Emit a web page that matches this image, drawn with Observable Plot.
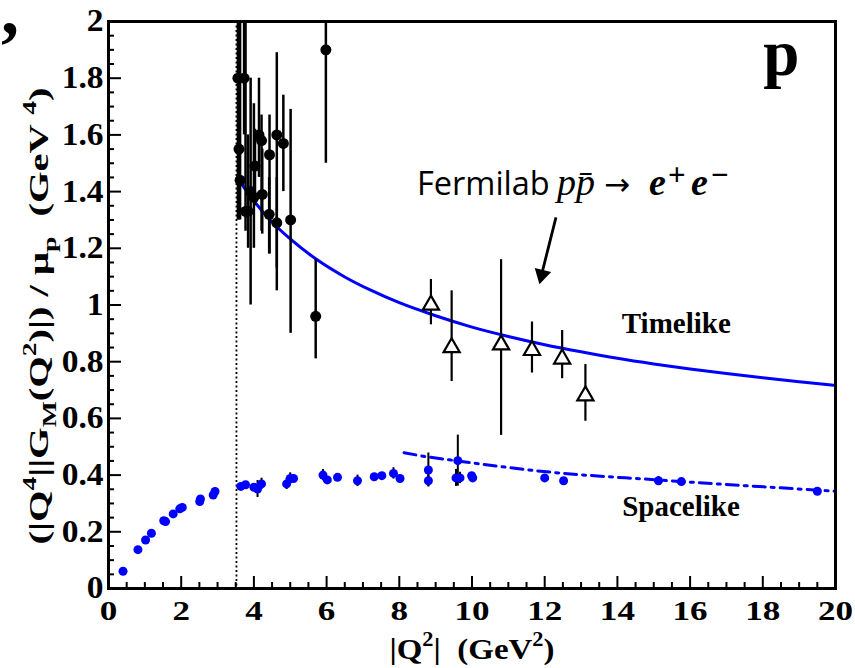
<!DOCTYPE html>
<html><head><meta charset="utf-8">
<script src="https://cdn.jsdelivr.net/npm/d3@7"></script>
<script src="https://cdn.jsdelivr.net/npm/@observablehq/plot@0.6"></script>
<style>body{margin:0;background:#fff;} #chart{width:855px;height:668px;}</style>
</head><body><div id="chart"></div>
<script>
// Timelike (filled black circles)
const tlQ2  = [3.56, 3.73, 3.59, 3.62, 3.77, 3.84, 3.91, 4.00, 4.03, 4.14, 4.21, 4.23, 4.42, 4.43, 4.63, 4.63, 4.81, 5.01, 5.70, 5.98];
const tlVal = [1.80, 1.80, 1.55, 1.44, 1.33, 1.33, 1.40, 1.38, 1.49, 1.60, 1.58, 1.39, 1.32, 1.53, 1.60, 1.29, 1.57, 1.30, 0.96, 1.90];
const tlLo  = [1.30, 1.60, 1.30, 1.30, 1.26, 1.20, 1.00, 1.20, 1.35, 1.45, 1.26, 1.25, 1.18, 1.18, 1.13, 1.05, 1.40, 0.90, 0.81, 1.50];
const tlHi  = [2.30, 2.30, 2.20, 2.20, 2.20, 1.60, 1.80, 1.71, 1.62, 1.80, 1.67, 1.55, 1.45, 1.67, 1.89, 1.45, 1.74, 1.69, 1.16, 2.30];
// Fermilab (open triangles)
const fmQ2  = [8.87, 9.44, 10.80, 11.65, 12.48, 13.12];
const fmVal = [1.00, 0.85, 0.86, 0.84, 0.81, 0.68];
const fmLo  = [0.93, 0.73, 0.54, 0.76, 0.74, 0.59];
const fmHi  = [1.09, 1.05, 1.16, 0.94, 0.91, 0.79];
// Spacelike (blue circles)
const slQ2  = [0.40,0.81,1.02,1.18,1.52,1.57,1.78,1.96,2.03,2.51,2.53,2.88,2.93,3.64,3.77,4.00,4.10,4.21,4.90,5.00,5.09,5.90,6.02,6.30,6.85,7.31,7.52,7.84,8.02,8.80,8.80,9.56,9.61,9.67,9.99,10.02,12.00,12.52,15.13,15.76,19.50];
const slVal = [0.061,0.137,0.171,0.195,0.239,0.236,0.263,0.281,0.286,0.307,0.316,0.330,0.342,0.360,0.366,0.357,0.351,0.369,0.369,0.388,0.388,0.400,0.383,0.392,0.380,0.394,0.398,0.406,0.388,0.418,0.380,0.390,0.451,0.390,0.398,0.390,0.390,0.380,0.380,0.377,0.343];
const slErr = [0,0,0,0,0,0,0,0,0,0,0,0,0,0,0,0,0.03,0.02,0.02,0.02,0.01,0.02,0.01,0,0.02,0,0,0.02,0,0.06,0.02,0.03,0.09,0.02,0.01,0,0,0,0.015,0,0];
// Timelike fit curve (solid blue)
const fitTQ2  = [3.6, 4.0, 4.5, 5.0, 5.7, 6.5, 7.2, 8.0, 9.0, 10.0, 11.0, 12.0, 13.0, 14.0, 15.0, 16.0, 17.0, 18.0, 19.0, 20.0];
const fitTVal = [1.438, 1.367, 1.293, 1.233, 1.163, 1.099, 1.053, 1.008, 0.962, 0.922, 0.889, 0.860, 0.835, 0.812, 0.792, 0.774, 0.758, 0.743, 0.729, 0.716];
// Spacelike extrapolation (dash-dot blue)
const fitSQ2  = [8.13, 8.6, 9.6, 12.18, 15.1, 20.0];
const fitSVal = [0.479, 0.468, 0.45, 0.41, 0.383, 0.343];
// Axis ticks
const xMajor = [0,2,4,6,8,10,12,14,16,18,20];
const xMinor = d3.range(0, 20.001, 0.5).filter(v => v % 2 !== 0);
const yMajor = [0,0.2,0.4,0.6,0.8,1,1.2,1.4,1.6,1.8,2];
const yMinor = d3.range(0, 2.0001, 0.05).map(v => +v.toFixed(2)).filter(v => Math.abs(v*5 - Math.round(v*5)) > 1e-6);
const threshold = [3.52];
// Annotation anchors (data units)
const arrowShaft = [{x1: 12.31, y1: 1.309, x2: 11.93, y2: 1.115}];
const arrowHead = [{x: 11.92, y: 1.1065}];

const timelike = tlQ2.map((q,i)=>({q, v: tlVal[i], lo: tlLo[i], hi: tlHi[i]}));
const fermi = fmQ2.map((q,i)=>({q, v: fmVal[i], lo: fmLo[i], hi: fmHi[i]}));
const space = slQ2.map((q,i)=>({q, v: slVal[i], lo: slVal[i]-slErr[i], hi: slVal[i]+slErr[i]}));
const fitT = fitTQ2.map((q,i)=>({q, v: fitTVal[i]}));
const fitS = fitSQ2.map((q,i)=>({q, v: fitSVal[i]}));

const serif = "Liberation Serif, serif";
const plot = Plot.plot({
  width: 855, height: 668,
  marginLeft: 108, marginRight: 20, marginTop: 21, marginBottom: 80,
  style: {fontSize: "27px", fontWeight: "bold", background: "white", color: "black", overflow: "visible"},
  x: {domain: [0, 20]},
  y: {domain: [0, 2]},
  marks: [
    Plot.ruleX(threshold, {strokeDasharray: "2,2.5", strokeWidth: 1.8}),
    Plot.line(fitT, {x: "q", y: "v", stroke: "#0000ff", strokeWidth: 3, curve: "monotone-x"}),
    Plot.line(fitS, {x: "q", y: "v", stroke: "#0000ff", strokeWidth: 3, curve: "monotone-x", strokeDasharray: "12,6,3,6"}),
    Plot.ruleX(space.filter(d => d.hi > d.lo), {x: "q", y1: "lo", y2: "hi", stroke: "black", strokeWidth: 2}),
    Plot.dot(space, {x: "q", y: "v", r: 4.5, fill: "#0000ff"}),
    Plot.ruleX(timelike, {x: "q", y1: "lo", y2: "hi", stroke: "black", strokeWidth: 2.5, clip: true}),
    Plot.dot(timelike, {x: "q", y: "v", r: 5.5, fill: "black"}),
    Plot.ruleX(fermi, {x: "q", y1: "lo", y2: "hi", stroke: "black", strokeWidth: 2.2}),
    Plot.dot(fermi, {x: "q", y: "v", r: 6, symbol: "triangle", fill: "white", stroke: "black", strokeWidth: 2.2}),
    Plot.link(arrowShaft, {x1: "x1", y1: "y1", x2: "x2", y2: "y2", stroke: "black", strokeWidth: 2.8}),
    Plot.dot(arrowHead, {x: "x", y: "y", r: 6.3, symbol: "triangle", fill: "black", rotate: 194}),
    Plot.text(["Timelike"], {x: 15.62, y: 0.90, text: d => d, fontSize: 29, fontWeight: "bold", lineAnchor: "bottom"}),
    Plot.text(["Spacelike"], {x: 15.75, y: 0.255, text: d => d, fontSize: 29, fontWeight: "bold", lineAnchor: "bottom"}),
    Plot.text(["p"], {x: 18.51, y: 1.81, text: d => d, fontSize: 65, fontWeight: "bold", lineAnchor: "bottom"}),
    Plot.axisX(xMajor, {tickSize: -12, fill: "none", strokeWidth: 2, label: null}),
    Plot.axisX(xMinor, {tickSize: -6, fill: "none", strokeWidth: 2, label: null}),
    Plot.axisX(xMajor, {tickSize: 0, tickPadding: 12, tickFormat: d => String(d), label: null, fontSize: 27}),
    Plot.axisY(yMajor, {tickSize: -13, fill: "none", strokeWidth: 2, label: null}),
    Plot.axisY(yMinor, {tickSize: -6, fill: "none", strokeWidth: 2, label: null}),
    Plot.axisY(yMajor, {tickSize: 0, tickPadding: 5, tickFormat: d => String(d), label: null, fontSize: 31}),
    Plot.frame({strokeWidth: 3})
  ]
});
document.getElementById("chart").appendChild(plot);

const svg = d3.select(plot);
svg.attr("font-family", serif);
svg.selectAll("text").attr("font-family", serif);
const X = plot.scale("x"), Y = plot.scale("y");

// horizontally widen tick labels (reference glyphs are wide)
function widen(sel, k) {
  sel.each(function() {
    const len = this.getComputedTextLength();
    if (len > 0) d3.select(this).attr("textLength", len * k).attr("lengthAdjust", "spacingAndGlyphs");
  });
}
widen(svg.selectAll('[aria-label="x-axis tick label"] text'), 1.3);
widen(svg.selectAll('[aria-label="y-axis tick label"] text'), 1.08);

// Fermilab annotation
const by = Y.apply(1.386);
const fer = svg.append("text").attr("y", by).attr("text-anchor", "start").attr("font-weight", "normal").attr("fill", "black");
fer.append("tspan").attr("x", 417).attr("font-family", "Open Sans, Liberation Sans, sans-serif").attr("font-size", 32.5).text("Fermilab");
fer.append("tspan").attr("x", 557).attr("font-family", serif).attr("font-style", "italic").attr("font-size", 38).text("pp\u0304");
fer.append("tspan").attr("x", 604).attr("font-family", "DejaVu Sans, sans-serif").attr("font-size", 31).text("\u2192");
fer.append("tspan").attr("x", 649).attr("font-family", serif).attr("font-style", "italic").attr("font-weight", "bold").attr("font-size", 38).text("e");
fer.append("tspan").attr("x", 668).attr("y", by - 10).attr("font-family", serif).attr("font-weight", "bold").attr("font-size", 31).text("+");
fer.append("tspan").attr("x", 691).attr("y", by).attr("font-family", serif).attr("font-style", "italic").attr("font-weight", "bold").attr("font-size", 38).text("e");
fer.append("tspan").attr("x", 711).attr("y", by - 10).attr("font-family", serif).attr("font-weight", "bold").attr("font-size", 31).text("\u2212");

// Axis titles
function rich(sel, parts, fs) {
  let shift = 0;
  parts.forEach(([t, kind]) => {
    const ts = sel.append("tspan").text(t);
    let target = 0;
    if (kind === "sup") { target = -0.42*fs; ts.attr("font-size", fs*0.68); }
    else if (kind === "sub") { target = 0.28*fs; ts.attr("font-size", fs*0.68); }
    ts.attr("dy", target - shift);
    shift = target;
  });
}
const xt = svg.append("text").attr("x", 472).attr("y", 659).attr("text-anchor", "middle")
  .attr("font-family", serif).attr("font-weight", "bold").attr("font-size", 30);
rich(xt, [["|Q"], ["2","sup"], ["|  (GeV"], ["2","sup"], [")"]], 30);
xt.attr("textLength", 165).attr("lengthAdjust", "spacingAndGlyphs");

const yt = svg.append("text").attr("transform", "translate(48,316) rotate(-90)").attr("text-anchor", "middle")
  .attr("font-family", serif).attr("font-weight", "bold").attr("font-size", 28);
rich(yt, [["(|Q"], ["4","sup"], ["||G"], ["M","sub"], ["(Q"], ["2","sup"], [")|) / \u03bc"], ["p","sub"], ["  (GeV "], ["4","sup"], [")"]], 28);
yt.attr("textLength", 457).attr("lengthAdjust", "spacingAndGlyphs");

// stray mark from neighbouring panel
svg.append("text").attr("x", 1).attr("y", 34).attr("text-anchor", "start").attr("font-family", serif)
  .attr("font-weight", "bold").attr("font-size", 72).text(",");
</script>
</body></html>
